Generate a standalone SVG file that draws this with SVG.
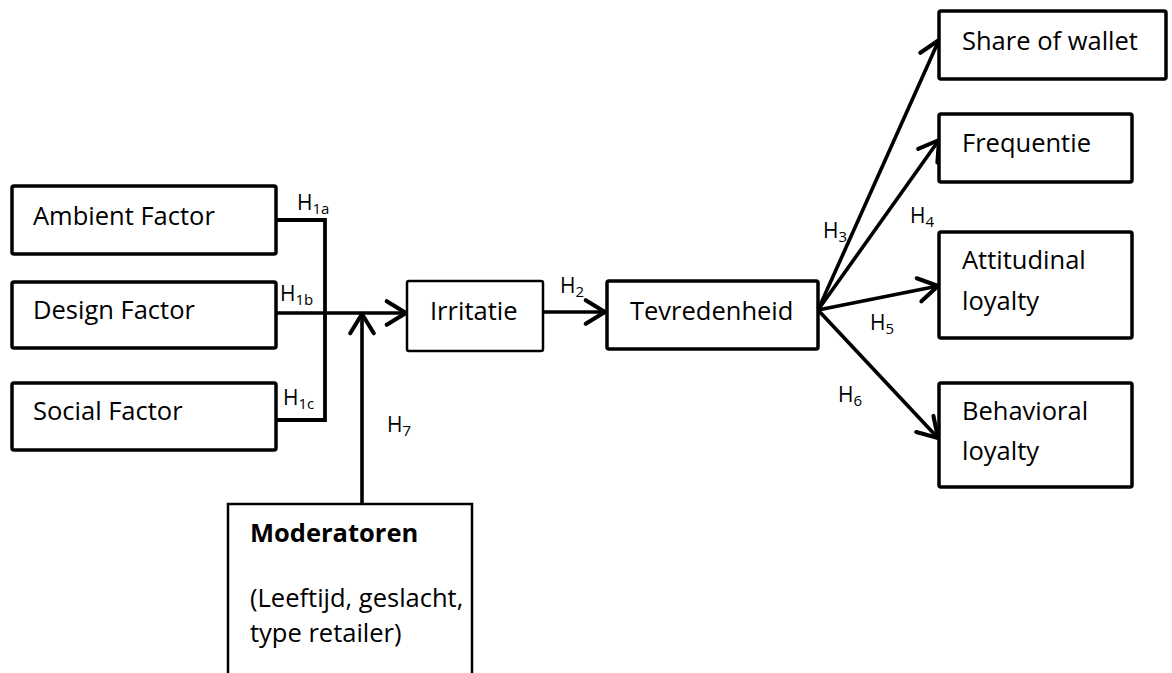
<svg xmlns="http://www.w3.org/2000/svg" width="1172" height="673" viewBox="0 0 1172 673">
<style>
.box{fill:#fff;stroke:#000;stroke-width:3.5}
.thin{fill:#fff;stroke:#000;stroke-width:2.5}
.t{font-family:"Open Sans","Liberation Sans",sans-serif;font-size:25.5px;fill:#000}
.h{font-family:"Open Sans","Liberation Sans",sans-serif;font-size:21px;fill:#000}
.s{font-size:15px}
.c{fill:none;stroke:#000;stroke-width:3.8;stroke-linejoin:miter}
.a{fill:none;stroke:#000;stroke-width:3.6;marker-end:url(#arr)}
</style>
<defs>
<marker id="arr" markerUnits="userSpaceOnUse" markerWidth="30" markerHeight="30" viewBox="-21 -14 24 28" refX="0" refY="0" orient="auto">
<path d="M-18,-11 L0,0 L-18,11" fill="none" stroke="#000" stroke-width="3.8" stroke-linejoin="round" stroke-linecap="round"/>
</marker>
</defs>
<rect width="1172" height="673" fill="#fff"/>
<g id="connectors">
<polyline class="c" points="276,220 325,220 325,420 276,420"/>
<line class="a" x1="276" y1="313" x2="406" y2="313"/>
<line class="a" x1="362" y1="504" x2="362" y2="314"/>
<line class="a" x1="543" y1="312" x2="605" y2="312"/>
<line class="a" x1="818" y1="310" x2="939" y2="40"/>
<line class="a" x1="818" y1="310" x2="939" y2="140"/>
<line class="a" x1="818" y1="310" x2="938" y2="286"/>
<line class="a" x1="818" y1="310" x2="938" y2="438"/>
</g>
<g id="labels">
<text class="h" x="297" y="210">H<tspan class="s" dy="4">1a</tspan></text>
<text class="h" x="280" y="301">H<tspan class="s" dy="4">1b</tspan></text>
<text class="h" x="283" y="405">H<tspan class="s" dy="4">1c</tspan></text>
<text class="h" x="387" y="432">H<tspan class="s" dy="4">7</tspan></text>
<text class="h" x="560" y="293">H<tspan class="s" dy="4">2</tspan></text>
<text class="h" x="823" y="238">H<tspan class="s" dy="4">3</tspan></text>
<text class="h" x="910" y="223">H<tspan class="s" dy="4">4</tspan></text>
<text class="h" x="870" y="330">H<tspan class="s" dy="4">5</tspan></text>
<text class="h" x="838" y="402">H<tspan class="s" dy="4">6</tspan></text>
</g>
<g id="ambient"><rect class="box" x="12" y="186" width="264" height="68" rx="2"/><text class="t" x="33" y="225">Ambient Factor</text></g>
<g id="design"><rect class="box" x="12" y="282" width="264" height="66" rx="2"/><text class="t" x="33" y="319">Design Factor</text></g>
<g id="social"><rect class="box" x="12" y="383" width="264" height="67" rx="2"/><text class="t" x="33" y="420">Social Factor</text></g>
<g id="irritatie"><rect class="thin" x="407" y="281" width="136" height="70" rx="2"/><text class="t" x="430" y="320">Irritatie</text></g>
<g id="tevredenheid"><rect class="box" x="607" y="281" width="211" height="68" rx="2"/><text class="t" x="630" y="320">Tevredenheid</text></g>
<g id="share"><rect class="box" x="939" y="11" width="227" height="68" rx="2"/><text class="t" x="962" y="50">Share of wallet</text></g>
<g id="frequentie"><rect class="box" x="939" y="114" width="193" height="68" rx="2"/><text class="t" x="962" y="152">Frequentie</text></g>
<g id="attitudinal"><rect class="box" x="939" y="232" width="193" height="106" rx="2"/><text class="t" x="962" y="269">Attitudinal</text><text class="t" x="962" y="310">loyalty</text></g>
<g id="behavioral"><rect class="box" x="939" y="383" width="193" height="104" rx="2"/><text class="t" x="962" y="420">Behavioral</text><text class="t" x="962" y="460">loyalty</text></g>
<g id="moderatoren"><rect class="thin" x="228" y="504" width="244" height="200"/><text class="t" x="250" y="542" font-weight="bold">Moderatoren</text><text class="t" x="250" y="607">(Leeftijd, geslacht,</text><text class="t" x="250" y="642">type retailer)</text></g>
</svg>
